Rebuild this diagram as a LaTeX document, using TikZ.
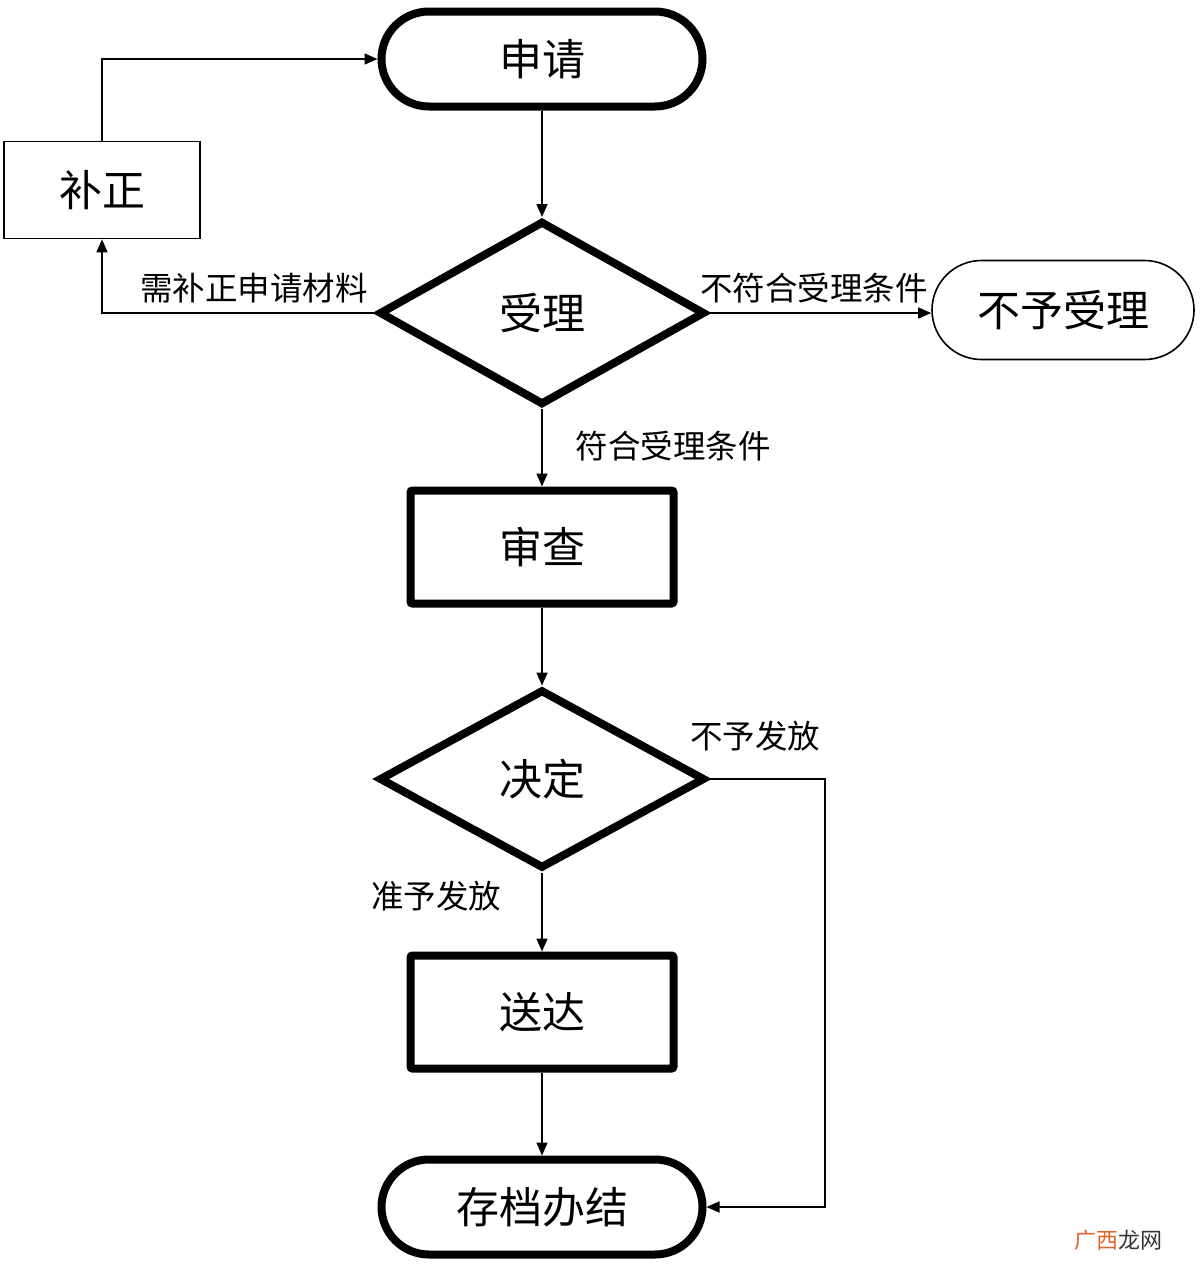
\documentclass[tikz,border=0pt]{standalone}
\usepackage{fontspec}
\setmainfont{Noto Sans CJK SC}
\usetikzlibrary{shapes.geometric,arrows.meta}
\definecolor{wmorange}{HTML}{E0652A}
\definecolor{wmgray}{HTML}{333333}
\begin{document}
\begin{tikzpicture}[x=1pt,y=-1pt,
  bigtext/.style={font=\fontsize{43}{50}\selectfont},
  labtext/.style={font=\fontsize{32.5}{38}\selectfont, inner sep=0pt},
  stadium/.style={draw, rectangle, line width=8pt, minimum width=321pt, minimum height=95pt, rounded corners=47.5pt, bigtext},
  thinstadium/.style={draw, rectangle, line width=1.6pt, minimum width=262pt, minimum height=99pt, rounded corners=49.5pt, bigtext},
  procbox/.style={draw, rectangle, line width=8pt, minimum width=263pt, minimum height=113pt, rounded corners=2pt, bigtext},
  thinbox/.style={draw, rectangle, line width=1.6pt, minimum width=196pt, minimum height=97pt, bigtext},
  decision/.style={draw, diamond, line width=8pt, inner sep=0pt, line join=miter, bigtext},
  arrow/.style={line width=1.6pt, -{Triangle[length=13pt,width=11pt]}},
]
\useasboundingbox (0,0) rectangle (1200,1269);

\node[stadium] (shenqing) at (542,59) {申请};
\node[thinbox] (buzheng) at (102,190) {补正};
\node[decision, minimum width=326pt, minimum height=184pt] (shouli) at (542,313) {受理};
\node[thinstadium] (buyu) at (1063,310) {不予受理};
\node[procbox] (shencha) at (542,547) {审查};
\node[decision, minimum width=326pt, minimum height=179pt] (jueding) at (542,779) {决定};
\node[procbox] (songda) at (542,1012) {送达};
\node[stadium] (cundang) at (542,1207) {存档办结};

\coordinate (rx) at (825,0);

\draw[arrow] (shenqing.south) -- (shouli.north);
\draw[arrow] (shouli.west) -| (buzheng.south);
\draw[arrow] (buzheng.north) |- (shenqing.west);
\draw[arrow] (shouli.east) -- (shouli.east -| buyu.west);
\draw[arrow] (shouli.south) -- (shencha.north);
\draw[arrow] (shencha.south) -- (jueding.north);
\draw[arrow] (jueding.south) -- (songda.north);
\draw[arrow] (songda.south) -- (cundang.north);
\draw[arrow] (jueding.east) -| (rx |- cundang.east) -- (cundang.east);

\node[labtext] (l1) at (254,288) {需补正申请材料};
\node[labtext] (l2) at (814,288) {不符合受理条件};
\node[labtext] (l3) at (673,446) {符合受理条件};
\node[labtext] (l4) at (755,736) {不予发放};
\node[labtext] (l5) at (436,896) {准予发放};

\node[font=\fontsize{22}{26}\selectfont, inner sep=0pt] (wm) at (1118,1240) {\textcolor{wmorange}{广西}\textcolor{wmgray}{龙网}};
\end{tikzpicture}
\end{document}
